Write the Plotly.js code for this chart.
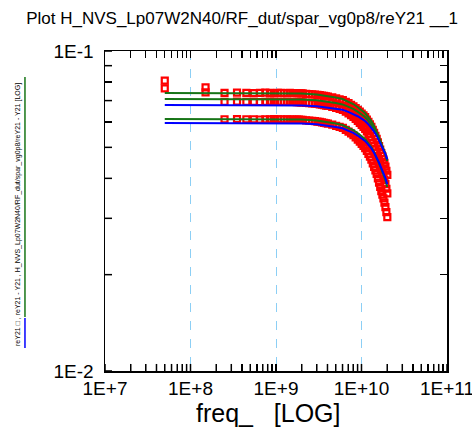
<!DOCTYPE html>
<html>
<head>
<meta charset="utf-8">
<script src="https://cdn.plot.ly/plotly-3.0.1.min.js"></script>
<style>
html,body{margin:0;padding:0;background:#fff;}
#chart{width:472px;height:432px;}
</style>
</head>
<body>
<div id="chart"></div>
<script>
// ---- measured data (red squares), frequency in GHz ----
var measFreqGHz = [0.05,0.15,0.25,0.35,0.45,0.55,0.65,0.75,0.85,0.95,1.05,1.15,1.25,1.35,1.45,1.55,1.65,1.75,1.85,1.95,
  2.05,2.25,2.45,2.65,2.85,3.05,3.25,3.45,3.65,3.85,
  4.05,4.55,5.05,5.55,6.05,6.55,7.05,7.55,8.05,8.55,9.05,9.55,10.05,10.55,11.05,11.55,12.05,12.55,13.05,13.55,
  14.05,14.55,15.05,15.55,16.05,16.55,17.05,17.55,18.05,18.55,19.05,19.55,20.05];
var meas1 = [0.0808,0.0770,0.0740,0.0741,0.0740,0.0739,0.0740,0.0741,0.0740,0.0739,0.0740,0.0740,0.0739,0.0739,0.0740,0.0739,0.0739,0.0738,0.0738,0.0737,
  0.07368,0.07349,0.07336,0.07324,0.07314,0.07298,0.07280,0.07261,0.07242,0.07223,
  0.07205,0.07161,0.07112,0.07069,0.07020,0.06942,0.06870,0.06794,0.06718,0.06631,0.06546,0.06462,0.06379,0.06297,0.06216,0.06109,0.06005,0.05902,0.05796,0.05672,
  0.05551,0.05432,0.05316,0.05180,0.05048,0.04919,0.04793,0.04691,0.04590,0.04473,0.04355,0.04225,0.04100];
var meas2 = [0.0764,0.0743,0.0694,0.0695,0.0694,0.0694,0.0693,0.0694,0.0695,0.0694,0.0694,0.0694,0.0693,0.0694,0.0693,0.0693,0.0693,0.0692,0.0692,0.0691,
  0.06907,0.06887,0.06873,0.06860,0.06850,0.06834,0.06814,0.06794,0.06775,0.06755,
  0.06736,0.06690,0.06639,0.06594,0.06544,0.06462,0.06388,0.06308,0.06230,0.06140,0.06052,0.05965,0.05879,0.05795,0.05712,0.05603,0.05496,0.05391,0.05283,0.05157,
  0.05034,0.04914,0.04797,0.04660,0.04527,0.04398,0.04273,0.04171,0.04072,0.03956,0.03839,0.03712,0.03589];
var meas3 = [null,null,0.0612,0.0613,0.0612,0.0612,0.0611,0.0612,0.0612,0.0613,0.0612,0.0612,0.0611,0.0612,0.0611,0.0611,0.0611,0.0610,0.0610,0.0609,
  0.06089,0.06070,0.06057,0.06045,0.06036,0.06020,0.06002,0.05983,0.05965,0.05946,
  0.05928,0.05885,0.05837,0.05795,0.05748,0.05671,0.05602,0.05527,0.05454,0.05370,0.05288,0.05207,0.05127,0.05049,0.04971,0.04870,0.04771,0.04674,0.04574,0.04458,
  0.04344,0.04234,0.04127,0.04001,0.03880,0.03762,0.03647,0.03555,0.03464,0.03359,0.03254,0.03139,0.03027];

// ---- simulated data (lines), frequency in GHz ----
var simFreqGHz = [0.05,0.1,0.2,0.5,1,2,3,4,5,6,7,8,9,10,11,12,13,14,15,16,17,18,19,20];
var simG1 = [0.0739,0.0739,0.0739,0.0739,0.0739,0.07363,0.07311,0.07232,0.07155,0.07078,0.06952,0.06828,0.06682,0.06539,0.06399,0.06218,0.06041,0.05828,0.05622,0.05384,0.05157,0.04975,0.04765,0.04531];
var simG2 = [0.0708,0.0708,0.0708,0.0708,0.0708,0.07057,0.07011,0.06944,0.06877,0.06810,0.06701,0.06593,0.06466,0.06342,0.06220,0.06061,0.05906,0.05718,0.05536,0.05325,0.05122,0.04958,0.04770,0.04558];
var simB1 = [0.0678,0.0678,0.0678,0.0678,0.0678,0.06761,0.06722,0.06664,0.06607,0.06550,0.06456,0.06364,0.06255,0.06148,0.06043,0.05905,0.05771,0.05607,0.05448,0.05263,0.05084,0.04940,0.04772,0.04584];
var simG3 = [0.0613,0.0613,0.0613,0.0613,0.0613,0.06108,0.06064,0.05999,0.05935,0.05871,0.05766,0.05664,0.05543,0.05424,0.05308,0.05158,0.05011,0.04834,0.04664,0.04466,0.04278,0.04126,0.03952,0.03758];
var simB2 = [0.0596,0.0596,0.0596,0.0596,0.0596,0.05941,0.05902,0.05845,0.05789,0.05733,0.05641,0.05550,0.05443,0.05339,0.05236,0.05102,0.04972,0.04813,0.04660,0.04482,0.04311,0.04174,0.04015,0.03837];

// ---- tick labels ----
var xDecades = [1e7,1e8,1e9,1e10,1e11];
var xDecadeText = ['1E+7','1E+8','1E+9','1E+10','1E+11'];
var yDecades = [0.01,0.1];
var yDecadeText = ['1E-2','1E-1'];
var digits = [2,3,4,5,6,7,8,9];

var titleText = 'Plot H_NVS_Lp07W2N40/RF_dut/spar_vg0p8/reY21 __1';
var xTitleText = 'freq_\u00a0\u00a0\u00a0[LOG]';
var sideText = 'reY21 \u25A1 , reY21 - Y21 , H_NVS_Lp07W2N40/RF_dut/spar_vg0p8/reY21 - Y21 [LOG]';

function hz(a){ return a.map(function(v){ return v*1e9; }); }

// full tick sets: decades labelled, intermediate digits unlabelled
function tickSet(decs, texts){
  var v = [], t = [];
  decs.forEach(function(d, i){
    v.push(d); t.push(texts[i]);
    if (i < decs.length - 1) digits.forEach(function(k){ v.push(d*k); t.push(''); });
  });
  return {v: v, t: t};
}
var xt = tickSet(xDecades, xDecadeText);
var yt = tickSet(yDecades, yDecadeText);

var RED = '#ff0000', GREEN = '#177517', BLUE = '#0000ff';
var traces = [];
[meas1, meas2, meas3].forEach(function(s){
  traces.push({x: hz(measFreqGHz), y: s, mode: 'markers', type: 'scatter',
    marker: {symbol: 'square-open', size: 6, color: RED, line: {color: RED, width: 2.2}},
    showlegend: false, hoverinfo: 'skip'});
});
[[simG1,GREEN],[simG2,GREEN],[simB1,BLUE],[simG3,GREEN],[simB2,BLUE]].forEach(function(p){
  traces.push({x: hz(simFreqGHz), y: p[0], mode: 'lines', type: 'scatter',
    line: {color: p[1], width: 2}, showlegend: false, hoverinfo: 'skip'});
});
// empty trace binding the grid-only overlay axis
traces.push({x: [], y: [], xaxis: 'x2', yaxis: 'y', type: 'scatter', mode: 'markers', showlegend: false, hoverinfo: 'skip'});

var FONT = 'Liberation Sans, Arial, sans-serif';
var XR = [6.9999, 11.0001];
var YR = [-2.0001, -0.9999];

// inward tick decorations along the bottom and left frame (paper fraction of the log range)
function xFrac(v){ return (Math.log10(v) - XR[0]) / (XR[1] - XR[0]); }
function yFrac(v){ return (Math.log10(v) - YR[0]) / (YR[1] - YR[0]); }
var tickShapes = [];
xt.v.forEach(function(v){
  var p = xFrac(v);
  tickShapes.push({type: 'line', xref: 'paper', yref: 'paper', x0: p, x1: p, y0: 0, y1: 0.022,
    line: {color: '#000', width: 1.5}, layer: 'above'});
});
yt.v.forEach(function(v){
  var p = yFrac(v);
  tickShapes.push({type: 'line', xref: 'paper', yref: 'paper', x0: 0, x1: 0.0205, y0: p, y1: p,
    line: {color: '#000', width: 1.5}, layer: 'above'});
});

var layout = {
  width: 472, height: 432,
  margin: {l: 105, r: 25, t: 51, b: 61},
  paper_bgcolor: '#ffffff', plot_bgcolor: '#ffffff',
  font: {family: FONT, color: '#000000'},
  title: {text: titleText, font: {family: FONT, size: 17, color: '#000'},
          xref: 'container', x: 0.513, xanchor: 'center', yref: 'container', y: 0.958, yanchor: 'middle'},
  xaxis: {
    type: 'log', range: XR, autorange: false,
    tickmode: 'array', tickvals: xt.v, ticktext: xt.t, ticklabeloverflow: 'allow',
    ticks: 'inside', ticklen: 7, tickwidth: 1.2, tickcolor: '#000',
    showline: true, linecolor: '#000', linewidth: 1.5, mirror: 'ticks', showgrid: false, zeroline: false,
    tickfont: {family: FONT, size: 19, color: '#000'}
  },
  xaxis2: {
    type: 'log', range: XR, autorange: false, overlaying: 'x', side: 'bottom',
    tickmode: 'array', tickvals: xDecades, ticks: '', showticklabels: false,
    showgrid: true, gridcolor: '#8ccff5', griddash: 'dash', gridwidth: 1,
    showline: false, zeroline: false
  },
  yaxis: {
    type: 'log', range: YR, autorange: false,
    tickmode: 'array', tickvals: yt.v, ticktext: yt.t, ticklabelstandoff: 6, ticklabeloverflow: 'allow',
    ticks: 'inside', ticklen: 7, tickwidth: 1.2, tickcolor: '#000',
    showline: true, linecolor: '#000', linewidth: 1.5, mirror: 'ticks', showgrid: false, zeroline: false,
    tickfont: {family: FONT, size: 19, color: '#000'}
  },
  annotations: [{
    text: sideText, textangle: -90, showarrow: false,
    xref: 'paper', yref: 'paper', x: -0.255, y: 0.49, xanchor: 'center', yanchor: 'middle',
    font: {family: FONT, size: 7, color: '#000'}
  }, {
    text: xTitleText, showarrow: false,
    xref: 'paper', yref: 'paper', x: 0.4795, y: -0.131, xanchor: 'center', yanchor: 'middle',
    font: {family: FONT, size: 25, color: '#000'}
  }],
  shapes: [
    {type: 'line', xref: 'paper', yref: 'paper', x0: -0.234, x1: -0.234, y0: 0.919, y1: 0.169, line: {color: GREEN, width: 1.5}},
    {type: 'line', xref: 'paper', yref: 'paper', x0: -0.234, x1: -0.234, y0: 0.166, y1: 0.072, line: {color: BLUE, width: 1.5}}
  ].concat(tickShapes),
  showlegend: false
};

Plotly.newPlot('chart', traces, layout, {staticPlot: true, displayModeBar: false});
</script>
</body>
</html>
